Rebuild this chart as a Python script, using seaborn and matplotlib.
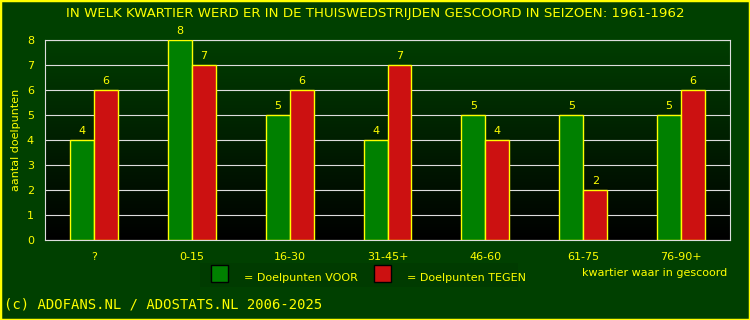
import pandas as pd
import numpy as np
import seaborn as sns
import matplotlib.pyplot as plt
from matplotlib.patches import Rectangle
from matplotlib.colors import LinearSegmentedColormap

# data
kwartieren = ['?', '0-15', '16-30', '31-45+', '46-60', '61-75', '76-90+']
voor = [4, 8, 5, 4, 5, 5, 5]
tegen = [6, 7, 6, 7, 4, 2, 6]
y_ticks = [0, 1, 2, 3, 4, 5, 6, 7, 8]

df = pd.DataFrame({
    'kwartier': kwartieren * 2,
    'doelpunten': voor + tegen,
    'soort': ['VOOR'] * len(voor) + ['TEGEN'] * len(tegen),
})

bg = '#004000'
yellow = '#ffff00'
green = '#008000'
red = '#cc1111'

sns.set_style('white')
plt.rcParams['font.family'] = ['DejaVu Sans']

fig = plt.figure(figsize=(7.5, 3.2), dpi=100, facecolor=bg)
ax = fig.add_axes([45 / 750, 80 / 320, 685 / 750, 200 / 320])
ax.set_facecolor('black')

# gradient background (dark green top to black bottom)
cmap = LinearSegmentedColormap.from_list('bg', ['#000000', '#003e00'])
grad = np.linspace(0, 1, 256).reshape(-1, 1)
ax.imshow(grad, aspect='auto', cmap=cmap, origin='lower',
          extent=[-0.5, 6.5, 0, 8], zorder=0)

sns.barplot(data=df, x='kwartier', y='doelpunten', hue='soort',
            palette={'VOOR': green, 'TEGEN': red}, width=0.49, gap=0,
            edgecolor=yellow, linewidth=1, saturation=1, legend=False,
            ax=ax, zorder=3)

for cont in ax.containers:
    ax.bar_label(cont, color=yellow, fontsize=8, padding=3)

ax.set_xlim(-0.5, 6.5)
ax.set_ylim(0, 8)
ax.set_yticks(y_ticks)
ax.grid(axis='y', color='#dddddd', linewidth=0.8, zorder=1)
ax.set_axisbelow(True)
for s in ax.spines.values():
    s.set_color('#dddddd')
    s.set_linewidth(0.8)
ax.tick_params(colors=yellow, labelsize=8, length=0, pad=8)
ax.tick_params(axis='x', pad=9)
ax.set_xlabel('')
ax.set_ylabel('aantal doelpunten', color=yellow, fontsize=8, labelpad=4)

fig.text(0.5, 1 - 14 / 320, 'IN WELK KWARTIER WERD ER IN DE THUISWEDSTRIJDEN GESCOORD IN SEIZOEN: 1961-1962',
         color=yellow, fontsize=9.6, ha='center', va='center')

# legend drawn by hand like the original
fig.patches.append(Rectangle((200 / 750, 1 - 287 / 320), 318 / 750, 24 / 320,
                             transform=fig.transFigure, facecolor='#003b00', edgecolor='none'))
fig.patches.append(Rectangle((211 / 750, 1 - 282 / 320), 17 / 750, 17 / 320,
                             transform=fig.transFigure, facecolor=green, edgecolor='black', linewidth=1))
fig.patches.append(Rectangle((374 / 750, 1 - 282 / 320), 17 / 750, 17 / 320,
                             transform=fig.transFigure, facecolor=red, edgecolor='black', linewidth=1))
fig.text(244 / 750, 1 - 278 / 320, '= Doelpunten VOOR', color=yellow, fontsize=8, va='center')
fig.text(407 / 750, 1 - 278 / 320, '= Doelpunten TEGEN', color=yellow, fontsize=8, va='center')
fig.text(727 / 750, 1 - 273 / 320, 'kwartier waar in gescoord', color=yellow, fontsize=8,
         ha='right', va='center')

fig.text(4 / 750, 1 - 304 / 320, '(c) ADOFANS.NL / ADOSTATS.NL 2006-2025', color=yellow,
         fontsize=10, family='DejaVu Sans Mono', va='center')

# yellow border round the figure
fig.patches.append(Rectangle((0, 0), 1, 1, transform=fig.transFigure, facecolor='none',
                             edgecolor=yellow, linewidth=2.5))

fig.savefig('out.png', dpi=100, facecolor=bg)
